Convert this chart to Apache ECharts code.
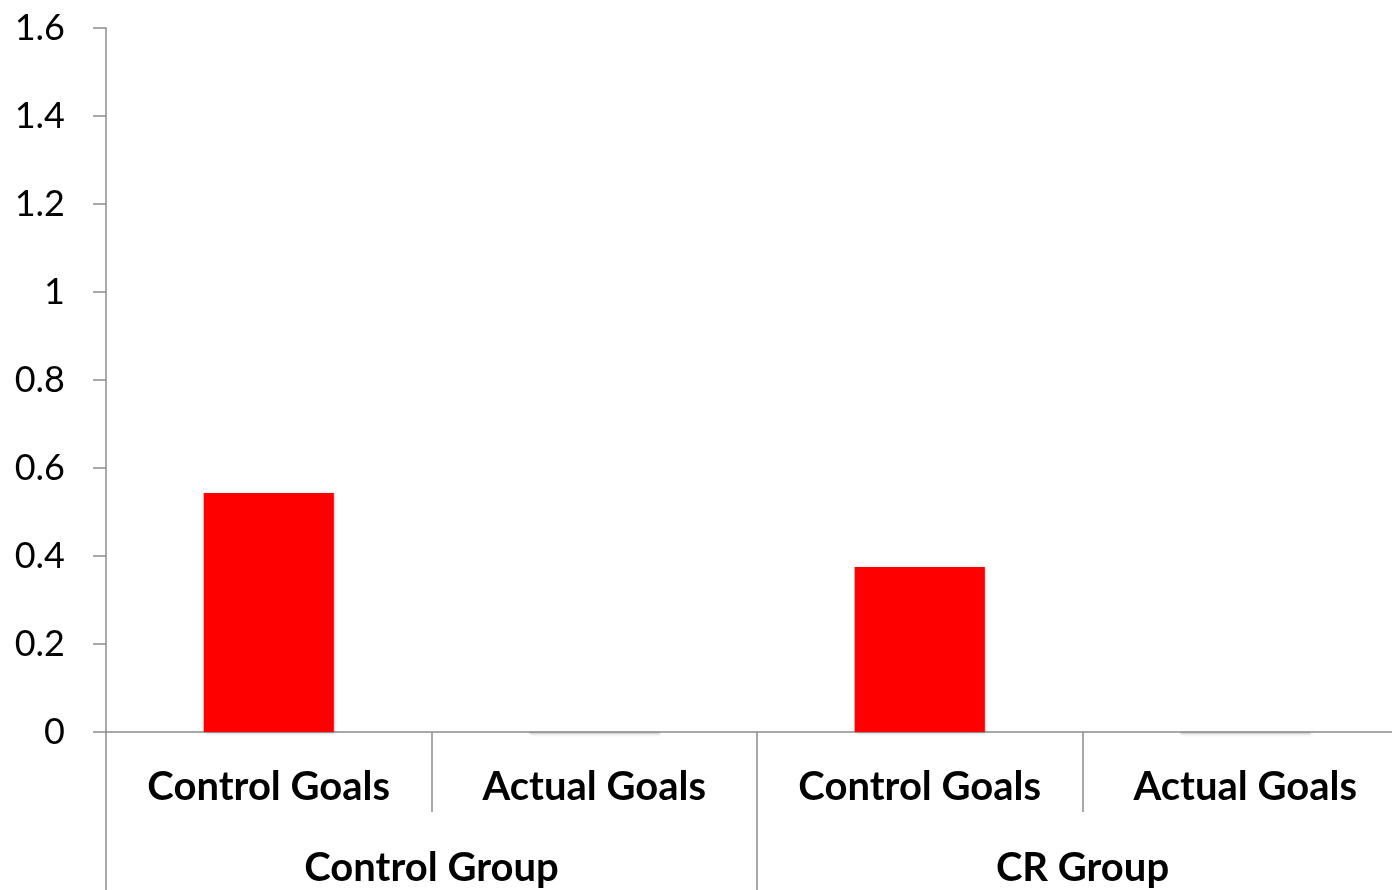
<!DOCTYPE html>
<html>
<head>
<meta charset="utf-8">
<script src="https://cdn.jsdelivr.net/npm/echarts@6/dist/echarts.min.js"></script>
<style>
html,body{margin:0;padding:0;background:#fff;overflow:hidden;width:1392px;height:890px;}
#chart{width:1420px;height:890px;}
</style>
</head>
<body>
<div id="chart"></div>
<script>
var categories = ['Control Goals', 'Actual Goals', 'Control Goals', 'Actual Goals'];
var groups = ['Control Group', 'CR Group'];
var values = [0.543, -0.003, 0.375, -0.003];
var yTicks = [0, 0.2, 0.4, 0.6, 0.8, 1, 1.2, 1.4, 1.6];

var FONT = 'Lato, "Open Sans", sans-serif';
var lineColor = '#8c8c8c';

var chart = echarts.init(document.getElementById('chart'));
chart.setOption({
  animation: false,
  grid: { left: 106, top: 28, bottom: 158, right: 12, containLabel: false },
  xAxis: [
    {
      type: 'category',
      data: categories,
      position: 'bottom',
      axisLine: { show: true, lineStyle: { color: lineColor, width: 1.5 } },
      axisTick: { show: true, length: 80, lineStyle: { color: lineColor, width: 1.5 } },
      axisLabel: { margin: 35, color: '#000', fontFamily: FONT, fontWeight: 'bold', fontSize: 40, interval: 0 },
      splitLine: { show: false }
    },
    {
      type: 'category',
      data: groups,
      position: 'bottom',
      axisLine: { show: false },
      axisTick: { show: true, length: 160, lineStyle: { color: lineColor, width: 1.5 } },
      axisLabel: { margin: 116, color: '#000', fontFamily: FONT, fontWeight: 'bold', fontSize: 40, interval: 0 },
      splitLine: { show: false }
    }
  ],
  yAxis: {
    type: 'value',
    min: yTicks[0],
    max: yTicks[yTicks.length - 1],
    interval: 0.2,
    axisLine: { show: true, lineStyle: { color: lineColor, width: 1.5 } },
    axisTick: { show: true, length: 13, lineStyle: { color: lineColor, width: 1.5 } },
    axisLabel: { margin: 41, color: '#000', fontFamily: FONT, fontSize: 36 },
    splitLine: { show: false }
  },
  series: [
    {
      type: 'bar',
      xAxisIndex: 0,
      data: values.map(function (v) {
        return { value: v, itemStyle: { color: v < 0 ? '#9a9a9a' : '#ff0000' } };
      }),
      barWidth: '40%',
      clip: false,
      itemStyle: {
        shadowColor: 'rgba(0,0,0,0.25)',
        shadowBlur: 3,
        shadowOffsetX: 1,
        shadowOffsetY: 1
      }
    }
  ]
});
</script>
</body>
</html>
